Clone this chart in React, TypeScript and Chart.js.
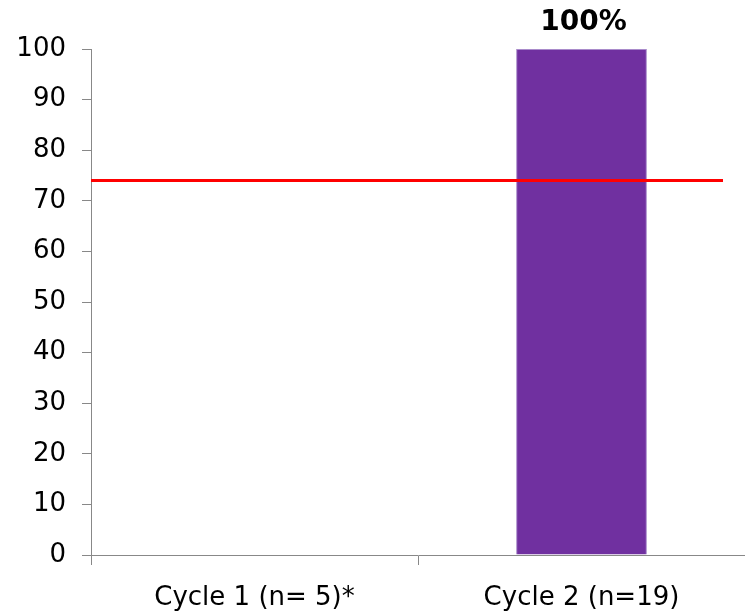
import React, { useEffect, useRef } from "react";
import { Chart, registerables } from "chart.js";

Chart.register(...registerables);

const categories = ["Cycle 1 (n= 5)*", "Cycle 2 (n=19)"];
const values: (number | null)[] = [null, 100];
const valueLabels = ["", "100%"];
const threshold = 74;
const yTicks = [0, 10, 20, 30, 40, 50, 60, 70, 80, 90, 100];

const FONT = "'DejaVu Sans', Verdana, sans-serif";

const overlayPlugin = {
  id: "overlay",
  afterDatasetsDraw(chart: any) {
    const { ctx, chartArea, scales } = chart;
    const y = scales.y.getPixelForValue(threshold);
    ctx.save();
    ctx.strokeStyle = "#FF0000";
    ctx.lineWidth = 3;
    ctx.beginPath();
    ctx.moveTo(chartArea.left, y);
    ctx.lineTo(chartArea.right - 22, y);
    ctx.stroke();
    const meta = chart.getDatasetMeta(0);
    ctx.fillStyle = "#000";
    ctx.font = `bold 28px ${FONT}`;
    ctx.textAlign = "center";
    ctx.textBaseline = "middle";
    meta.data.forEach((bar: any, i: number) => {
      if (values[i] == null || !valueLabels[i]) return;
      ctx.fillText(valueLabels[i], bar.x + 2, bar.y - 26);
    });
    ctx.restore();
  },
};

export default function App() {
  const ref = useRef<HTMLCanvasElement>(null);
  useEffect(() => {
    if (!ref.current) return;
    const chart = new Chart(ref.current, {
      type: "bar",
      data: {
        labels: categories,
        datasets: [
          {
            data: values,
            backgroundColor: "#7030A0",
            borderColor: "#A98BCB",
            borderWidth: 1,
            barPercentage: 0.4,
            categoryPercentage: 1,
          },
        ],
      },
      options: {
        animation: false,
        responsive: true,
        maintainAspectRatio: false,
        layout: { padding: { top: 49, left: 0, right: 0, bottom: 0 } },
        plugins: { legend: { display: false }, tooltip: { enabled: false } },
        scales: {
          x: {
            offset: true,
            grid: {
              offset: true,
              drawOnChartArea: false,
              drawTicks: true,
              tickLength: 10,
              color: "#888888",
            },
            border: { color: "#888888", width: 1 },
            ticks: {
              color: "#000",
              font: { family: FONT, size: 26 },
              padding: 18,
              maxRotation: 0,
            },
            afterFit(scale: any) {
              scale.height = 56;
            },
          },
          y: {
            min: 0,
            max: 100,
            afterBuildTicks(scale: any) {
              scale.ticks = yTicks.map((v) => ({ value: v }));
            },
            grid: {
              drawOnChartArea: false,
              drawTicks: true,
              tickLength: 9,
              color: "#888888",
            },
            border: { color: "#888888", width: 1 },
            ticks: {
              color: "#000",
              font: { family: FONT, size: 26 },
              padding: 16,
            },
            afterFit(scale: any) {
              scale.width = 91;
            },
          },
        },
      },
      plugins: [overlayPlugin],
    });
    return () => chart.destroy();
  }, []);
  return (
    <div style={{ position: "fixed", left: 0, top: 0, width: 745, height: 611, background: "#fff" }}>
      <canvas ref={ref} />
    </div>
  );
}
